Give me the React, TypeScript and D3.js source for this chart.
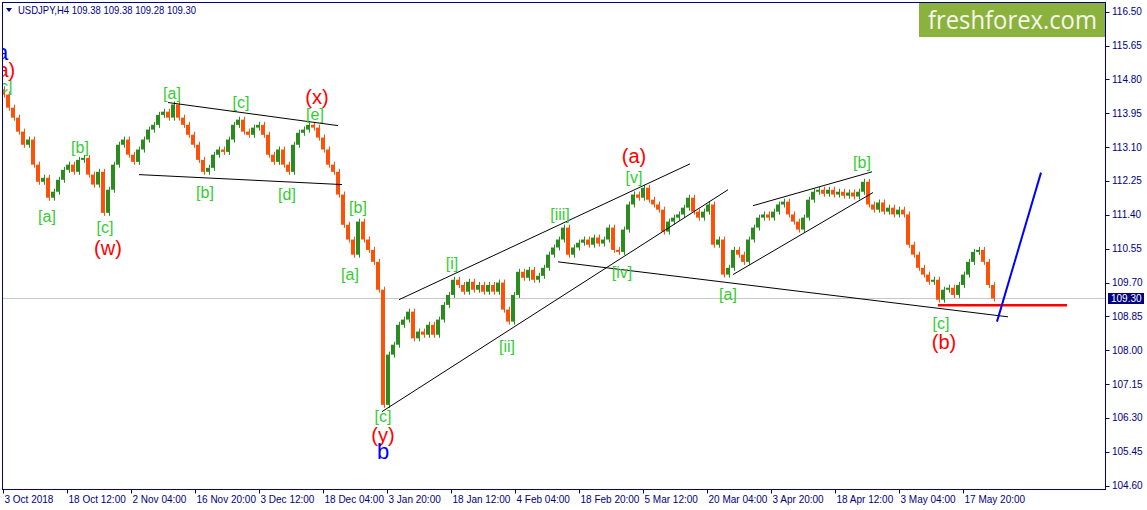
import React from "react";
import * as d3 from "d3";

// ---- data ----
const BAR_STEP = 5; // bars sampled every 5 H4 bars
const closes = [
  114.42, 114.09, 113.84, 113.49, 113.16, 113.29, 112.66, 112.23, 112.33, 111.83,
  111.98, 112.28, 112.53, 112.66, 112.48, 112.78, 112.83, 112.41, 112.16, 112.48,
  111.45, 112.03, 112.66, 113.16, 113.29, 112.91, 112.73, 113.04, 113.29, 113.54,
  113.66, 113.91, 113.99, 113.84, 114.17, 113.84, 113.66, 113.41, 113.16, 112.78,
  112.48, 112.58, 112.91, 113.04, 112.98, 113.29, 113.66, 113.79, 113.49, 113.41,
  113.59, 113.66, 113.41, 112.91, 112.73, 113.04, 112.66, 112.48, 113.16, 113.46,
  113.54, 113.66, 113.59, 113.34, 113.04, 112.66, 112.48, 111.91, 111.15, 110.78,
  110.40, 111.23, 110.78, 110.52, 110.22, 109.52, 106.63, 107.89, 108.14, 108.64,
  108.77, 108.97, 108.30, 108.47, 108.39, 108.64, 108.39, 108.77, 109.14, 109.39,
  109.77, 109.64, 109.47, 109.72, 109.52, 109.64, 109.47, 109.64, 109.47, 109.70,
  109.02, 108.72, 109.39, 109.97, 109.82, 110.02, 109.77, 109.87, 110.07, 110.40,
  110.58, 110.78, 111.08, 110.40, 110.58, 110.70, 110.78, 110.65, 110.83, 110.68,
  110.78, 111.08, 110.52, 110.47, 111.03, 111.66, 111.91, 111.83, 112.08, 111.78,
  111.66, 111.53, 110.98, 111.23, 111.33, 111.41, 111.58, 111.83, 111.48, 111.33,
  111.48, 111.66, 110.65, 110.78, 109.90, 110.07, 110.52, 110.40, 110.22, 110.78,
  111.08, 111.33, 111.41, 111.33, 111.48, 111.66, 111.73, 111.41, 111.23, 111.03,
  111.33, 111.78, 111.98, 112.03, 111.93, 112.03, 111.91, 111.98, 111.88, 111.96,
  111.86, 111.98, 112.23, 111.66, 111.53, 111.71, 111.48, 111.58, 111.41, 111.53,
  111.41, 110.65, 110.40, 110.07, 109.90, 109.72, 109.77, 109.27, 109.52, 109.57,
  109.39, 109.64, 109.90, 110.22, 110.47, 110.52, 110.22, 109.64, 109.30,
];
const firstOpen = 114.55;

const priceTicks = [116.5, 115.65, 114.8, 113.95, 113.1, 112.25, 111.4, 110.55, 109.7, 108.85, 108.0, 107.15, 106.3, 105.45, 104.6];
const timeLabels = [
  "3 Oct 2018", "18 Oct 12:00", "2 Nov 04:00", "16 Nov 20:00", "3 Dec 12:00", "18 Dec 04:00",
  "3 Jan 20:00", "18 Jan 12:00", "4 Feb 04:00", "18 Feb 20:00", "5 Mar 12:00", "20 Mar 04:00",
  "3 Apr 20:00", "18 Apr 12:00", "3 May 04:00", "17 May 20:00",
];
const TIME_LABEL_EVERY = 64; // bars
const lastPrice = 109.3;
const header = "USDJPY,H4  109.38 109.38 109.28 109.30";

// trend lines: [bar1, price1, bar2, price2]
const blackLines = [
  [165, 114.22, 335, 113.64],
  [136, 112.41, 339, 112.16],
  [396, 109.27, 687, 112.68],
  [379, 106.46, 725, 112.03],
  [555, 110.22, 1005, 108.84],
  [750, 111.63, 869, 112.48],
  [730, 109.9, 870, 111.96],
];
const redLine = [935, 109.13, 1064, 109.13];
const blueLine = [994, 108.72, 1038, 112.46];

// wave labels: [text, bar, price]
const greenLabels: [string, number, number][] = [
  ["[c]", 1, 114.62],
  ["[a]", 44, 111.35], ["[b]", 77, 113.09], ["[c]", 102, 111.08],
  ["[a]", 169, 114.44], ["[b]", 202, 111.96], ["[c]", 238, 114.22],
  ["[d]", 284, 111.91], ["[e]", 312, 113.91], ["[b]", 355, 111.58],
  ["[a]", 347, 109.9], ["[c]", 380, 106.33], ["[i]", 449, 110.17],
  ["[ii]", 504, 108.09], ["[iii]", 557, 111.4], ["[iv]", 619, 109.95],
  ["[v]", 631, 112.33], ["[a]", 725, 109.39], ["[b]", 859, 112.71],
  ["[c]", 938, 108.67],
];
const redLabels: [string, number, number][] = [
  ["(a)", 0, 115.04],
  ["(w)", 105, 110.57], ["(x)", 314, 114.37], ["(y)", 380, 105.88],
  ["(a)", 631, 112.88], ["(b)", 941, 108.21],
];
const blueLabels: [string, number, number][] = [
  ["a", -1, 115.47],
  ["b", 380, 105.45],
];

// ---- layout ----
const W = 1147, H = 510;
const L = 2.5, T = 2.5, R = 1105.5, B = 489.5;
const NAVY = "#000080";
const UP = "#2a8c1e";
const DOWN = "#ff5008";
const WICK_PX = 3;
const LABEL_FONT = "'Liberation Sans', Arial, sans-serif";

export default function App() {
  const x = d3.scaleLinear().domain([0, 1103]).range([3, 1106]);
  const y = d3.scaleLinear().domain([104.6, 116.5]).range([485.7, 11.7]);

  const bars = closes.map((c, i) => {
    const o = i === 0 ? firstOpen : closes[i - 1];
    const y1 = y(Math.max(o, c));
    const y2 = y(Math.min(o, c));
    return { x: x(i * BAR_STEP), y: y1, h: Math.max(2, y2 - y1), up: c >= o };
  });

  return (
    <svg width={W} height={H} style={{ position: "absolute", left: 0, top: 0, background: "#fff" }}
      fontFamily={LABEL_FONT}>
      <defs>
        <clipPath id="plot">
          <rect x={L} y={T} width={R - L} height={B - T} />
        </clipPath>
      </defs>
      <rect x={0} y={0} width={W} height={H} fill="#fff" />

      <g clipPath="url(#plot)">
        {/* current price line */}
        <line x1={L} x2={R} y1={y(lastPrice)} y2={y(lastPrice)} stroke="#c8c8c8" strokeWidth={1} />
        {/* bars */}
        {bars.map((b, i) => (
          <g key={i} fill={b.up ? UP : DOWN}>
            <rect x={b.x - 2} y={b.y} width={3} height={b.h} />
            <rect x={b.x + 1} y={b.y - WICK_PX} width={1} height={b.h + 2 * WICK_PX} />
          </g>
        ))}
        {/* trend lines */}
        {blackLines.map((l, i) => (
          <line key={i} x1={x(l[0])} y1={y(l[1])} x2={x(l[2])} y2={y(l[3])} stroke="#000" strokeWidth={1} />
        ))}
        <line x1={x(redLine[0])} y1={y(redLine[1])} x2={x(redLine[2])} y2={y(redLine[3])} stroke="#ff0000" strokeWidth={2.5} />
        <line x1={x(blueLine[0])} y1={y(blueLine[1])} x2={x(blueLine[2])} y2={y(blueLine[3])} stroke="#0000ff" strokeWidth={2} />

        {/* labels */}
        {greenLabels.map(([t, bi, p], i) => (
          <text key={"g" + i} x={x(bi)} y={y(p)} fill="#32cd32" fontSize={16} textAnchor="middle" dominantBaseline="central">{t}</text>
        ))}
        {redLabels.map(([t, bi, p], i) => (
          <text key={"r" + i} x={x(bi)} y={y(p)} fill="#ff0000" fontSize={20} textAnchor="middle" dominantBaseline="central">{t}</text>
        ))}
        {blueLabels.map(([t, bi, p], i) => (
          <text key={"b" + i} x={x(bi)} y={y(p)} fill="#0000ff" fontSize={22} textAnchor="middle" dominantBaseline="central">{t}</text>
        ))}

        {/* logo */}
        <rect x={919} y={3} width={186} height={34} fill="#8cb23e" />
        <text x={928} y={28.5} fill="#f6f8ee" fontSize={25} fontFamily="'Open Sans', sans-serif" textLength={169} lengthAdjust="spacingAndGlyphs">freshforex.com</text>
      </g>

      {/* header */}
      <path d="M6,8 L12,8 L9,12 Z" fill={NAVY} />
      <text x={18} y={14} fill={NAVY} fontSize={11} textLength={178} lengthAdjust="spacingAndGlyphs">{header}</text>

      {/* frame */}
      <rect x={L} y={T} width={R - L} height={B - T} fill="none" stroke={NAVY} strokeWidth={1} />

      {/* price axis */}
      {priceTicks.map((p, i) => (
        <g key={i}>
          <line x1={R} x2={R + 4} y1={Math.round(y(p)) + 0.5} y2={Math.round(y(p)) + 0.5} stroke={NAVY} />
          <text x={1112} y={y(p) + 3.5} fill={NAVY} fontSize={10}>{p.toFixed(2)}</text>
        </g>
      ))}
      <rect x={1108} y={y(lastPrice) - 5.5} width={36} height={11} fill={NAVY} />
      <text x={1111} y={y(lastPrice) + 3.5} fill="#fff" fontSize={10}>{lastPrice.toFixed(2)}</text>

      {/* time axis */}
      {timeLabels.map((t, i) => {
        const xx = Math.round(x(i * TIME_LABEL_EVERY)) + 0.5;
        return (
          <g key={i}>
            <line x1={xx} x2={xx} y1={B} y2={B + 4} stroke={NAVY} />
            <text x={xx + 1} y={503} fill={NAVY} fontSize={10}>{t}</text>
          </g>
        );
      })}
    </svg>
  );
}
